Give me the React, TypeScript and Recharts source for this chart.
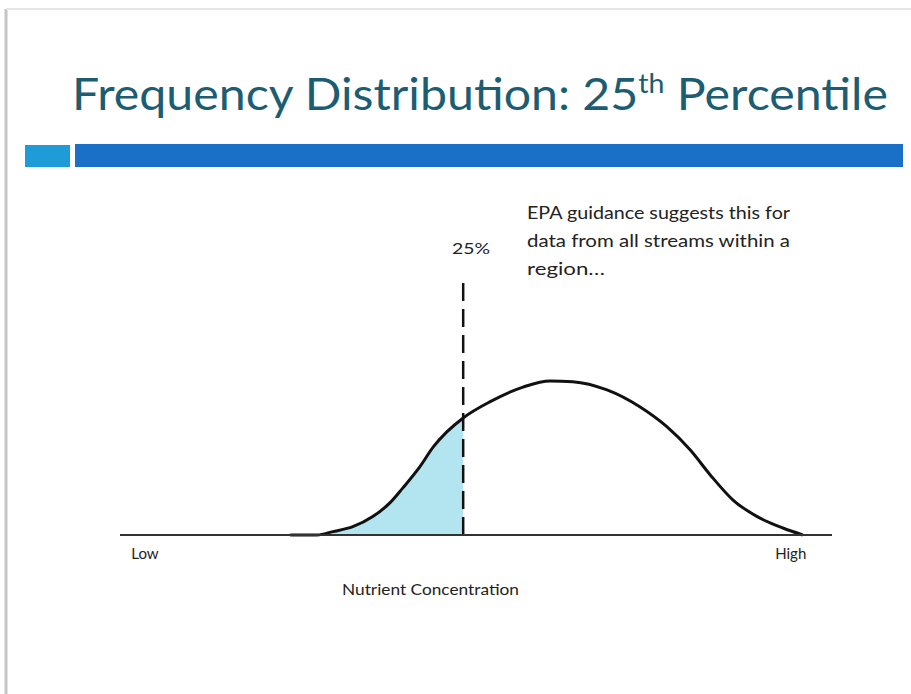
import React from "react";
import { ComposedChart, Line, Area, XAxis, YAxis, ReferenceLine } from "recharts";

// Concentration position (0 = Low end of axis, 100 = High end)
const concentration = [23.9, 27.7, 29.9, 32.7, 35.5, 37.9, 39.7, 42.1, 44.0, 45.9, 48.2, 52.0, 56.6, 60.4, 63.6, 68.4, 73.0, 76.8, 80.1, 82.9, 86.1, 89.5, 93.1, 95.9];
// Relative frequency
const frequency = [0, 0, 1.3, 3.2, 7.1, 12.4, 18.1, 26.3, 34.0, 39.8, 45.2, 51.5, 57.1, 59.5, 59.2, 56.0, 49.5, 41.8, 32.8, 23.2, 13.5, 7.1, 2.7, 0];
const percentile25 = 48.2;
const tickPositions = [3.5, 94.2];
const tickLabels = ["Low", "High"];

const data = concentration.map((x, i) => ({
  x,
  freq: frequency[i],
  shade: x <= percentile25 ? frequency[i] : null,
}));

const FONT = "Lato, 'Open Sans', sans-serif";

export default function App() {
  return (
    <div style={{ position: "absolute", left: 0, top: 0, width: 911, height: 694, background: "#fff", overflow: "hidden" }}>
      <svg width={911} height={694} style={{ position: "absolute", left: 0, top: 0 }}>
        <line x1={6} y1={9} x2={6} y2={694} stroke="#c4c4c4" strokeWidth={3} />
        <line x1={6} y1={9} x2={911} y2={9} stroke="#e6e6e6" strokeWidth={2} />
        <rect x={25} y={145} width={45} height={22} fill="#1f9bd7" />
        <rect x={75} y={144} width={828} height={23} fill="#1a6fc6" />
        <text x={72} y={110} fontFamily={FONT} fontSize={44} fill="#1c5d72" textLength={816} lengthAdjust="spacingAndGlyphs">
          Frequency Distribution: 25<tspan fontSize={26} dy={-17}>th</tspan><tspan dy={17}> Percentile</tspan>
        </text>
        <g fontFamily={FONT} fontSize={17} fill="#222">
          <text x={527} y={219} textLength={263} lengthAdjust="spacingAndGlyphs">EPA guidance suggests this for</text>
          <text x={527} y={247} textLength={263} lengthAdjust="spacingAndGlyphs">data from all streams within a</text>
          <text x={527} y={275} textLength={78} lengthAdjust="spacingAndGlyphs">region…</text>
        </g>
        <text x={452} y={254} fontFamily={FONT} fontSize={15} fill="#222" textLength={38} lengthAdjust="spacingAndGlyphs">25%</text>
        <text x={342} y={595} fontFamily={FONT} fontSize={15} fill="#222" textLength={177} lengthAdjust="spacingAndGlyphs">Nutrient Concentration</text>
      </svg>
      <div style={{ position: "absolute", left: 0, top: 0 }}>
        <ComposedChart width={911} height={694} data={data} margin={{ top: 276, right: 79, bottom: 129, left: 120 }}>
          <XAxis
            dataKey="x"
            type="number"
            domain={[0, 100]}
            ticks={tickPositions}
            tickFormatter={(v) => tickLabels[tickPositions.indexOf(v)]}
            axisLine={{ stroke: "#333", strokeWidth: 2 }}
            tickLine={false}
            tickSize={0}
            tickMargin={13}
            height={30}
            tick={{ fontSize: 15, fill: "#222", fontFamily: FONT }}
            allowDataOverflow
          />
          <YAxis hide domain={[0, 100]} type="number" />
          <Area
            dataKey="shade"
            type="monotone"
            fill="#b2e5f0"
            fillOpacity={1}
            stroke="none"
            connectNulls={false}
            isAnimationActive={false}
            dot={false}
            activeDot={false}
          />
          <ReferenceLine x={percentile25} stroke="#111" strokeWidth={2.5} strokeDasharray="18 8" />
          <Line
            dataKey="freq"
            type="monotone"
            stroke="#111"
            strokeWidth={3}
            dot={false}
            activeDot={false}
            isAnimationActive={false}
          />
        </ComposedChart>
      </div>
    </div>
  );
}
